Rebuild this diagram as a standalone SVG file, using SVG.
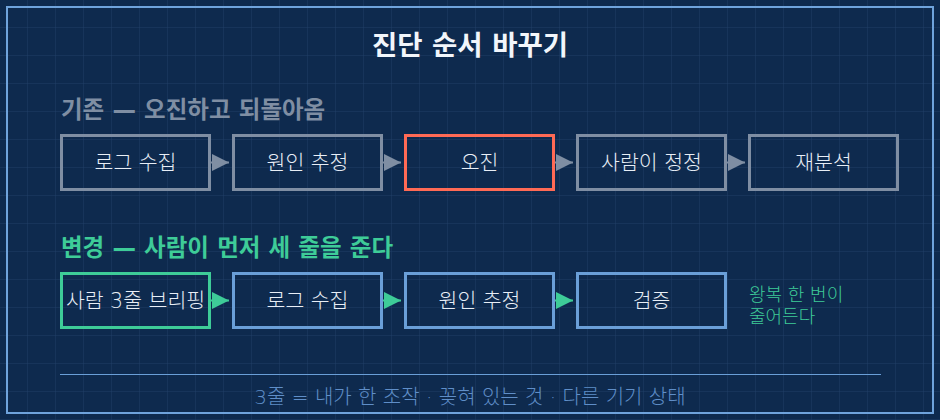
<svg xmlns="http://www.w3.org/2000/svg" width="940" height="420" viewBox="0 0 940 420">
<defs>
<pattern id="grid" width="28" height="28" patternUnits="userSpaceOnUse">
<path d="M28 0V28M0 28H28" fill="none" stroke="#1f3e66" stroke-width="1"/>
</pattern>
<marker id="ag" viewBox="0 0 10 10" refX="10" refY="5" markerWidth="17" markerHeight="17" markerUnits="userSpaceOnUse" orient="auto"><path d="M0 0L10 5L0 10Z" fill="#7f8ea3"/></marker>
<marker id="an" viewBox="0 0 10 10" refX="10" refY="5" markerWidth="17" markerHeight="17" markerUnits="userSpaceOnUse" orient="auto"><path d="M0 0L10 5L0 10Z" fill="#3ecc98"/></marker>
</defs>
<style>
text{font-family:"DejaVu Sans","Noto Sans CJK KR",sans-serif}
.title{font-size:27.5px;font-weight:700;fill:#f2f6fb;text-anchor:middle}
.sec{font-size:23.5px;font-weight:700}
.lbl{font-size:20.5px;font-weight:300;fill:#e8eef6;text-anchor:middle}
.box{fill:none;stroke-width:3}
.gray{stroke:#7f8ea3}
.red{stroke:#ff6a55}
.green{stroke:#3ecc98}
.blue{stroke:#6a9fd8}
.side{font-size:18px;font-weight:300;fill:#3ecc98}
.foot{font-size:20px;font-weight:300;fill:#5f8ec8;text-anchor:middle}
</style>
<rect width="940" height="420" fill="#0e2a4e"/>
<rect width="940" height="420" fill="url(#grid)"/>
<rect x="7" y="7" width="926" height="406" fill="none" stroke="#6fa3dc" stroke-width="2"/>
<text class="title" x="470" y="55">진단 순서 바꾸기</text>
<text class="sec" x="61" y="118" fill="#7f8ea3">기존 — 오진하고 되돌아옴</text>
<g id="n1"><rect class="box gray" x="61.5" y="135.5" width="148" height="54"/><text class="lbl" x="135.5" y="170">로그 수집</text></g>
<g id="n2"><rect class="box gray" x="233.5" y="135.5" width="148" height="54"/><text class="lbl" x="307.5" y="170">원인 추정</text></g>
<g id="n3"><rect class="box red" x="405.5" y="135.5" width="148" height="54"/><text class="lbl" x="479.5" y="170">오진</text></g>
<g id="n4"><rect class="box gray" x="577.5" y="135.5" width="148" height="54"/><text class="lbl" x="651.5" y="170">사람이 정정</text></g>
<g id="n5"><rect class="box gray" x="749.5" y="135.5" width="148" height="54"/><text class="lbl" x="823.5" y="170">재분석</text></g>
<text class="sec" x="61" y="256" fill="#3ecc98">변경 — 사람이 먼저 세 줄을 준다</text>
<g id="m1"><rect class="box green" x="61.5" y="273.5" width="148" height="54"/><text class="lbl" x="135.5" y="308">사람 3줄 브리핑</text></g>
<g id="m2"><rect class="box blue" x="233.5" y="273.5" width="148" height="54"/><text class="lbl" x="307.5" y="308">로그 수집</text></g>
<g id="m3"><rect class="box blue" x="405.5" y="273.5" width="148" height="54"/><text class="lbl" x="479.5" y="308">원인 추정</text></g>
<g id="m4"><rect class="box blue" x="577.5" y="273.5" width="148" height="54"/><text class="lbl" x="651.5" y="308">검증</text></g>
<g id="connectors">
<line x1="211" y1="162.5" x2="229" y2="162.5" stroke="#7f8ea3" stroke-width="2" marker-end="url(#ag)"/>
<line x1="383" y1="162.5" x2="401" y2="162.5" stroke="#7f8ea3" stroke-width="2" marker-end="url(#ag)"/>
<line x1="555" y1="162.5" x2="573" y2="162.5" stroke="#7f8ea3" stroke-width="2" marker-end="url(#ag)"/>
<line x1="727" y1="162.5" x2="745" y2="162.5" stroke="#7f8ea3" stroke-width="2" marker-end="url(#ag)"/>
<line x1="211" y1="300.5" x2="229" y2="300.5" stroke="#3ecc98" stroke-width="2" marker-end="url(#an)"/>
<line x1="383" y1="300.5" x2="401" y2="300.5" stroke="#3ecc98" stroke-width="2" marker-end="url(#an)"/>
<line x1="555" y1="300.5" x2="573" y2="300.5" stroke="#3ecc98" stroke-width="2" marker-end="url(#an)"/>
</g>
<text class="side" x="749" y="301">왕복 한 번이</text>
<text class="side" x="749" y="323">줄어든다</text>
<line x1="60" y1="374.5" x2="881" y2="374.5" stroke="#6a9fd8" stroke-width="1"/>
<text class="foot" x="470" y="404">3줄 = 내가 한 조작 · 꽂혀 있는 것 · 다른 기기 상태</text>
</svg>
